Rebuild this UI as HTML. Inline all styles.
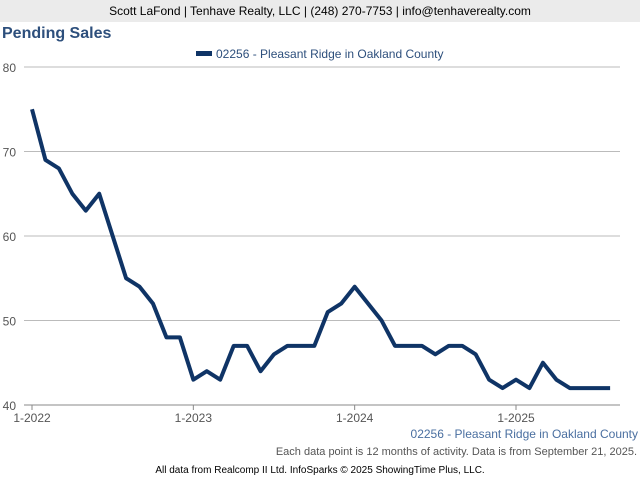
<!DOCTYPE html>
<html><head><meta charset="utf-8"><style>
body{margin:0;width:640px;height:480px;background:#fff;font-family:"Liberation Sans",sans-serif;overflow:hidden;position:relative}
.hdr{position:absolute;left:0;top:0;width:640px;height:22px;background:#ebebeb;text-align:center;font-size:12px;line-height:22px;color:#000}
.title{position:absolute;left:2px;top:25px;font-size:16px;font-weight:bold;color:#2d4f7c}
svg{position:absolute;left:0;top:0}
</style></head><body>
<div class="hdr">Scott LaFond | Tenhave Realty, LLC | (248) 270-7753 | info@tenhaverealty.com</div>
<div class="title">Pending Sales</div>
<svg id="chart" width="640" height="480"></svg>
<script>
const values=[75,69,68,65,63,65,60,55,54,52,48,48,
43,44,43,47,47,44,46,47,47,47,51,52,
54,52,50,47,47,47,46,47,47,46,43,42,
43,42,45,43,42,42,42,42];
const yTicks=[40,50,60,70,80];
const xTickLabels=["1-2022","1-2023","1-2024","1-2025"];
const xTickIdx=[0,12,24,36];
const seriesName="02256 - Pleasant Ridge in Oakland County";
const NS="http://www.w3.org/2000/svg";
const svg=document.getElementById('chart');
const x=i=>32+i*(484/36);
const y=v=>405-(v-40)*(338/40);
function mk(t,a,txt){const e=document.createElementNS(NS,t);for(const k in a)e.setAttribute(k,a[k]);if(txt!==undefined)e.textContent=txt;svg.appendChild(e);return e;}
yTicks.forEach(v=>{
 const g=mk('line',{x1:24,x2:620,y1:y(v),y2:y(v),stroke:v===40?'#888':'#bbb','stroke-width':1});
 
 
 const t=mk('text',{x:16,y:y(v)+5,'text-anchor':'end','font-size':12,fill:'#555','font-family':'Liberation Sans, sans-serif'},v);
 
 
});
xTickIdx.forEach((idx,k)=>{
 const l=mk('line',{x1:x(idx),x2:x(idx),y1:405,y2:410,stroke:'#888'});
 
 
 const t=mk('text',{x:x(idx),y:422,'text-anchor':'middle','font-size':12,fill:'#555','font-family':'Liberation Sans, sans-serif'},xTickLabels[k]);
 
 
});
const p=mk('polyline',{points:values.map((v,i)=>x(i)+','+y(v)).join(' '),fill:'none',stroke:'#0f3466','stroke-width':4,'stroke-linejoin':'round'});


const lg=mk('rect',{x:196,y:51,width:16,height:5,fill:'#0f3466'});


const lt=mk('text',{x:216,y:58,'font-size':12,fill:'#2d4f7c','font-family':'Liberation Sans, sans-serif'},seriesName);


const f1=mk('text',{x:638,y:438,'text-anchor':'end','font-size':12,fill:'#4a6fa0','font-family':'Liberation Sans, sans-serif'},seriesName);


const f2=mk('text',{x:637,y:455,'text-anchor':'end','font-size':11,fill:'#555','font-family':'Liberation Sans, sans-serif'},"Each data point is 12 months of activity. Data is from September 21, 2025.");


const f3=mk('text',{x:320,y:473,'text-anchor':'middle','font-size':10,fill:'#000','font-family':'Liberation Sans, sans-serif'},"All data from Realcomp II Ltd. InfoSparks © 2025 ShowingTime Plus, LLC.");


</script>
</body></html>
